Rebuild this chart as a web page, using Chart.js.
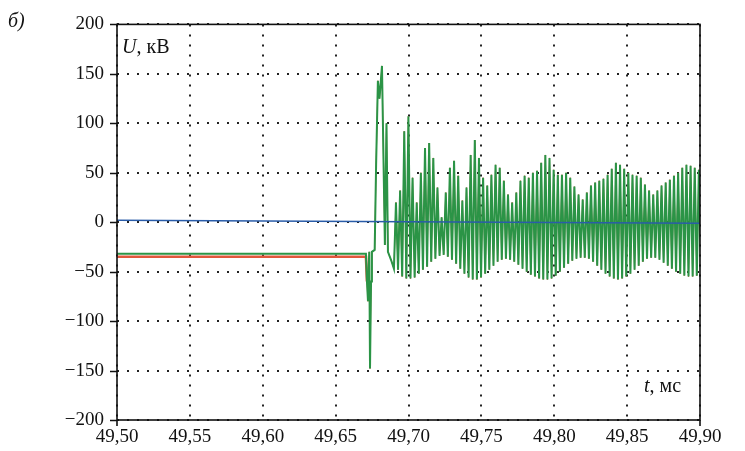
<!DOCTYPE html>
<html>
<head>
<meta charset="utf-8">
<script src="https://cdn.jsdelivr.net/npm/chart.js@4/dist/chart.umd.min.js"></script>
<style>
  html, body { margin: 0; padding: 0; background: #fff; }
  #wrap { width: 745px; height: 451px; position: relative; }
</style>
</head>
<body>
<div id="wrap"><canvas id="chart-u"></canvas></div>
<script>
// Axis ranges and ticks (time in ms, voltage in kV)
const X_MIN = 49.5;
const X_MAX = 49.9;
const X_STEP = 0.05;
const Y_MIN = -200;
const Y_MAX = 200;
const Y_STEP = 50;

// Phase voltage before the disturbance
const blueT = [49.5, 49.7, 49.9];
const blueU = [2, 0.5, -1];
const redPreT = [49.5, 49.6708];
const redPreU = [-35, -35];
const greenPreT = [49.5, 49.6708];
const greenPreU = [-32, -32];

// Switching transient (shared by the red and green phases)
const transientT = [49.6715, 49.6722, 49.6727, 49.6731, 49.6736, 49.6743, 49.6749, 49.6768, 49.6778, 49.679, 49.6801, 49.6818, 49.6838, 49.6849, 49.6859, 49.688, 49.69];
const transientU = [-60, -80, -45, -30, -148, -60, -30, -28, 60, 143, 125, 158, -23, 100, -30, -38, -47];

// Oscillation after the transient: one peak and one trough per cycle
const oscStart = 49.6914;
const oscPeriod = 0.002847;
const oscPeaks = [20, 32, 92, 107, 45, 20, 50, 75, 80, 65, 35, 5, 30, 55, 62, 47, 22, 35, 68, 83, 65, 45, 37, 48, 58, 55, 42, 28, 20, 30, 42, 47, 45, 50, 52, 60, 68, 65, 53, 48, 48, 50, 45, 36, 28, 23, 30, 37, 40, 42, 44, 48, 54, 60, 58, 54, 50, 48, 47, 45, 38, 32, 28, 32, 37, 40, 43, 47, 50, 55, 58, 57, 55, 53];
const oscTroughs = [-48, -55, -57, -57, -56, -52, -48, -45, -40, -37, -34, -33, -35, -38, -42, -47, -52, -56, -58, -58, -56, -52, -48, -44, -40, -38, -37, -38, -40, -43, -47, -50, -53, -55, -57, -58, -58, -57, -54, -50, -46, -42, -39, -37, -36, -36, -37, -40, -44, -48, -52, -55, -57, -58, -57, -55, -52, -48, -44, -40, -37, -36, -36, -38, -41, -44, -47, -50, -52, -54, -55, -55, -54, -53];

const SERIF = "'Liberation Serif', 'Times New Roman', serif";

function toPoints(ts, us) {
  return ts.map((t, i) => ({ x: t, y: us[i] }));
}

function oscPoints() {
  const pts = [];
  oscPeaks.forEach((p, i) => {
    const t = oscStart + i * oscPeriod;
    pts.push({ x: t, y: p });
    pts.push({ x: t + oscPeriod / 2, y: oscTroughs[i] });
  });
  return pts;
}

function fmtNum(v, digits) {
  const s = Math.abs(v).toFixed(digits).replace(".", ",");
  return v < 0 ? "\u2212" + s : s;
}

const afterTransient = toPoints(transientT, transientU).concat(oscPoints());

// Frame, outer tick marks and the axis captions
const framePlugin = {
  id: "frame",
  afterDraw(chart) {
    const { ctx, chartArea: a, scales } = chart;
    ctx.save();
    ctx.strokeStyle = "#111";
    ctx.lineWidth = 1.6;
    ctx.strokeRect(a.left, a.top, a.right - a.left, a.bottom - a.top);

    ctx.beginPath();
    for (let v = Y_MIN; v <= Y_MAX; v += Y_STEP) {
      const y = Math.round(scales.y.getPixelForValue(v)) + 0.5;
      ctx.moveTo(a.left - 7, y);
      ctx.lineTo(a.left, y);
    }
    ctx.moveTo(a.left, a.bottom);
    ctx.lineTo(a.left, a.bottom + 6);
    ctx.moveTo(a.right, a.bottom);
    ctx.lineTo(a.right, a.bottom + 6);
    ctx.stroke();

    ctx.fillStyle = "#111";
    ctx.textBaseline = "alphabetic";
    ctx.font = "italic 20px " + SERIF;
    ctx.fillText("\u0431)", 8, 27);
    ctx.fillText("U", 122, 53);
    let w = ctx.measureText("U").width;
    ctx.font = "20px " + SERIF;
    ctx.fillText(", \u043a\u0412", 122 + w, 53);

    ctx.font = "italic 20px " + SERIF;
    ctx.fillText("t", 644, 392);
    w = ctx.measureText("t").width;
    ctx.font = "20px " + SERIF;
    ctx.fillText(", \u043c\u0441", 644 + w, 392);
    ctx.restore();
  },
};

const gridOpts = {
  color: "#222",
  lineWidth: 2,
  drawTicks: false,
};

new Chart(document.getElementById("chart-u"), {
  type: "line",
  data: {
    datasets: [
      {
        label: "A",
        data: toPoints(blueT, blueU),
        borderColor: "#2a5ca8",
        borderWidth: 1.6,
        pointRadius: 0,
        order: 0,
      },
      {
        label: "B",
        data: toPoints(redPreT, redPreU).concat(afterTransient),
        borderColor: "#e0573c",
        borderWidth: 2.6,
        pointRadius: 0,
        order: 2,
        segment: {
          borderWidth: (c) => (c.p0.parsed.x < 49.671 ? 2.6 : 1),
        },
      },
      {
        label: "C",
        data: toPoints(greenPreT, greenPreU).concat(afterTransient),
        borderColor: "#2b9446",
        borderWidth: 2,
        pointRadius: 0,
        order: 1,
      },
    ],
  },
  options: {
    responsive: true,
    maintainAspectRatio: false,
    animation: false,
    parsing: false,
    layout: { padding: { left: 0, right: 45, top: 20, bottom: 0 } },
    plugins: {
      legend: { display: false },
      tooltip: { enabled: false },
    },
    scales: {
      x: {
        type: "linear",
        min: X_MIN,
        max: X_MAX,
        afterFit(scale) { scale.height = 31; },
        afterBuildTicks(scale) {
          const ticks = [];
          for (let i = 0; i <= Math.round((X_MAX - X_MIN) / X_STEP); i++) {
            ticks.push({ value: +(X_MIN + i * X_STEP).toFixed(2) });
          }
          scale.ticks = ticks;
        },
        grid: gridOpts,
        border: { display: false, dash: [2, 8] },
        ticks: {
          color: "#111",
          padding: 6,
          maxRotation: 0,
          autoSkip: false,
          font: { family: SERIF, size: 19 },
          callback: (v) => fmtNum(v, 2),
        },
      },
      y: {
        min: Y_MIN,
        max: Y_MAX,
        afterFit(scale) { scale.width = 117; },
        grid: gridOpts,
        border: { display: false, dash: [2, 8] },
        ticks: {
          stepSize: Y_STEP,
          color: "#111",
          padding: 13,
          font: { family: SERIF, size: 19 },
          callback: (v) => fmtNum(v, 0),
        },
      },
    },
  },
  plugins: [framePlugin],
});
</script>
</body>
</html>
